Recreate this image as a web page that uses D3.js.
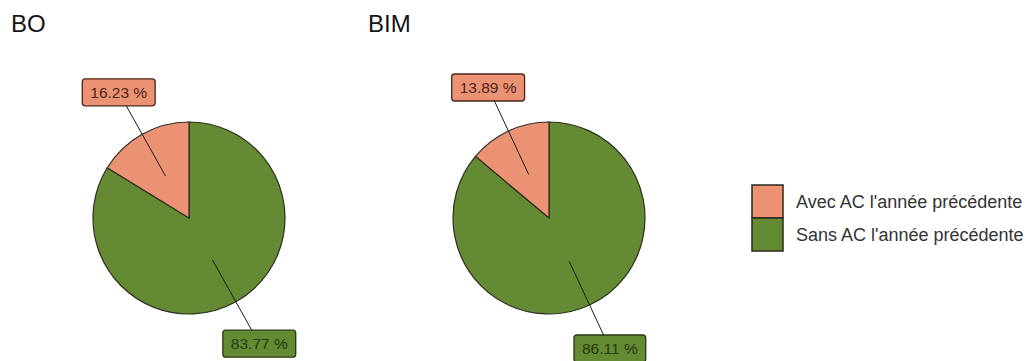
<!DOCTYPE html>
<html>
<head>
<meta charset="utf-8">
<script src="https://cdn.jsdelivr.net/npm/d3@7"></script>
<style>
  html, body { margin: 0; padding: 0; background: #ffffff; }
  svg { display: block; }
</style>
</head>
<body>
<svg id="chart" width="1026" height="361"></svg>
<script>
// Panels (one pie per group) and the two categories
const panels = ["BO", "BIM"];
const categories = ["Avec AC l'année précédente", "Sans AC l'année précédente"];

// Shares (%) per panel, in the order of `panels`
const avecValues = [16.23, 13.89];
const sansValues = [83.77, 86.11];

const W = 1026, H = 361;
const font = "'Liberation Sans', Arial, sans-serif";
const svg = d3.select("#chart");

const fillColor = d3.scaleOrdinal().domain(categories).range(["#EC9274", "#648A33"]);
const inkColor = d3.scaleOrdinal().domain(categories).range(["#4d2416", "#263a10"]);

// Horizontal placement of each panel
const panelX = d3.scalePoint().domain(panels).range([189, 549]);
const panelLeft = d3.scalePoint().domain(panels).range([11, 368]);

const radius = 96;
const cy = 218;

const pie = d3.pie().sort(null).value(d => d.value).startAngle(0).endAngle(2 * Math.PI);
const arc = d3.arc().innerRadius(0).outerRadius(radius);
const innerArc = d3.arc().innerRadius(radius * 0.5).outerRadius(radius * 0.5);
const outerArc = d3.arc().innerRadius(radius * 1.5).outerRadius(radius * 1.5);
const fmt = d3.format(".2f");

panels.forEach((p, i) => {
  // slices drawn clockwise from 12 o'clock: "Sans" first, then "Avec"
  const data = [
    { cat: categories[1], value: sansValues[i] },
    { cat: categories[0], value: avecValues[i] }
  ];
  const arcs = pie(data);

  svg.append("text")
    .attr("x", panelLeft(p))
    .attr("y", 32)
    .attr("font-family", font)
    .attr("font-size", 24)
    .attr("fill", "#151515")
    .text(p);

  const g = svg.append("g").attr("transform", `translate(${panelX(p)},${cy})`);

  g.selectAll("path.slice")
    .data(arcs)
    .join("path")
    .attr("class", "slice")
    .attr("d", arc)
    .attr("fill", d => fillColor(d.data.cat))
    .attr("stroke", "#2e2e22")
    .attr("stroke-width", 1.2);

  // leader lines from mid-slice out to the label position
  g.selectAll("line.leader")
    .data(arcs)
    .join("line")
    .attr("class", "leader")
    .attr("x1", d => innerArc.centroid(d)[0])
    .attr("y1", d => innerArc.centroid(d)[1])
    .attr("x2", d => outerArc.centroid(d)[0])
    .attr("y2", d => outerArc.centroid(d)[1])
    .attr("stroke", "#1a1a1a")
    .attr("stroke-width", 1);

  const labels = g.selectAll("g.lab")
    .data(arcs)
    .join("g")
    .attr("class", "lab")
    .attr("transform", d => `translate(${outerArc.centroid(d)})`);

  labels.each(function(d) {
    const lg = d3.select(this);
    const t = lg.append("text")
      .attr("text-anchor", "middle")
      .attr("dominant-baseline", "central")
      .attr("font-family", font)
      .attr("font-size", 15.5)
      .attr("fill", inkColor(d.data.cat))
      .text(fmt(d.data.value) + " %");
    const tw = t.node().getComputedTextLength();
    const bw = tw + 16, bh = 27;
    lg.insert("rect", "text")
      .attr("x", -bw / 2)
      .attr("y", -bh / 2)
      .attr("width", bw)
      .attr("height", bh)
      .attr("rx", 3)
      .attr("fill", fillColor(d.data.cat))
      .attr("stroke", inkColor(d.data.cat))
      .attr("stroke-width", 1.3);
  });
});

// Legend
const keyX = 752, keySize = 33, legendTop = 185;
const legendY = d3.scaleBand().domain(categories).range([legendTop, legendTop + 2 * keySize]);
const legend = svg.append("g");
legend.selectAll("rect")
  .data(categories)
  .join("rect")
  .attr("x", keyX)
  .attr("y", d => legendY(d))
  .attr("width", 31)
  .attr("height", legendY.bandwidth())
  .attr("fill", d => fillColor(d))
  .attr("stroke", "#2a2a20")
  .attr("stroke-width", 1.5);
legend.selectAll("text")
  .data(categories)
  .join("text")
  .attr("x", 796)
  .attr("y", d => legendY(d) + legendY.bandwidth() / 2)
  .attr("dominant-baseline", "central")
  .attr("font-family", font)
  .attr("font-size", 18)
  .attr("fill", "#333333")
  .text(d => d);
</script>
</body>
</html>
